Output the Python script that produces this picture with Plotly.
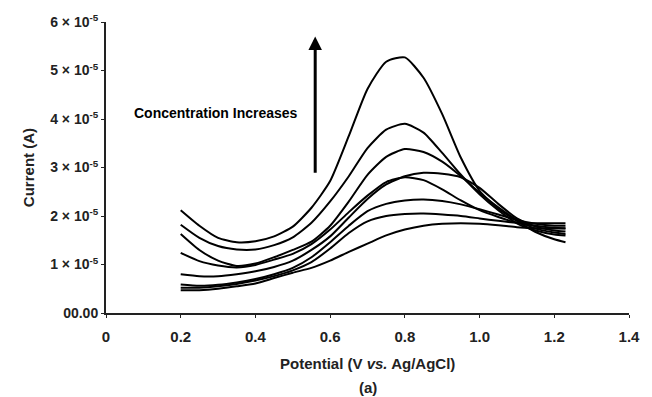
import plotly.graph_objects as go

# Potential grid (V vs Ag/AgCl)
potential = [0.20, 0.25, 0.30, 0.35, 0.40, 0.45, 0.50, 0.55, 0.60, 0.65, 0.70,
             0.75, 0.80, 0.85, 0.90, 0.95, 1.00, 1.05, 1.10, 1.15, 1.20, 1.23]

# Currents in units of 1e-5 A, one list per concentration
curve_1 = [2.12, 1.80, 1.55, 1.46, 1.48, 1.58, 1.78, 2.17, 2.72, 3.65, 4.62,
           5.18, 5.27, 4.85, 4.10, 3.20, 2.52, 2.15, 1.90, 1.67, 1.52, 1.46]
curve_2 = [1.82, 1.55, 1.38, 1.31, 1.31, 1.40, 1.56, 1.86, 2.30, 2.82, 3.40,
           3.78, 3.90, 3.72, 3.30, 2.85, 2.45, 2.12, 1.85, 1.70, 1.62, 1.60]
curve_3 = [1.63, 1.30, 1.08, 0.97, 1.02, 1.15, 1.30, 1.47, 1.80, 2.30, 2.85,
           3.22, 3.38, 3.32, 3.12, 2.82, 2.48, 2.18, 1.92, 1.74, 1.66, 1.63]
curve_4 = [1.24, 1.07, 0.98, 0.94, 0.99, 1.10, 1.22, 1.42, 1.72, 2.08, 2.42,
           2.70, 2.80, 2.74, 2.55, 2.32, 2.12, 1.98, 1.86, 1.80, 1.76, 1.75]
curve_5 = [0.80, 0.76, 0.76, 0.80, 0.86, 0.95, 1.08, 1.30, 1.58, 1.97, 2.35,
           2.65, 2.82, 2.89, 2.87, 2.80, 2.58, 2.25, 1.95, 1.78, 1.70, 1.68]
curve_6 = [0.59, 0.56, 0.58, 0.63, 0.70, 0.80, 0.93, 1.15, 1.46, 1.80, 2.10,
           2.25, 2.32, 2.34, 2.31, 2.24, 2.14, 2.03, 1.92, 1.84, 1.80, 1.80]
curve_7 = [0.52, 0.52, 0.55, 0.60, 0.67, 0.76, 0.88, 1.05, 1.33, 1.65, 1.89,
           2.00, 2.04, 2.05, 2.03, 2.00, 1.95, 1.90, 1.86, 1.85, 1.85, 1.85]
curve_8 = [0.47, 0.47, 0.50, 0.55, 0.61, 0.72, 0.83, 0.93, 1.08, 1.26, 1.43,
           1.60, 1.72, 1.80, 1.84, 1.85, 1.84, 1.81, 1.77, 1.75, 1.74, 1.74]

curves = [curve_1, curve_2, curve_3, curve_4, curve_5, curve_6, curve_7, curve_8]
scale = 1e-5

x_tick_vals = [0, 0.2, 0.4, 0.6, 0.8, 1.0, 1.2, 1.4]
x_tick_text = ["0", "0.2", "0.4", "0.6", "0.8", "1.0", "1.2", "1.4"]
y_tick_vals = [0, 1e-5, 2e-5, 3e-5, 4e-5, 5e-5, 6e-5]
y_tick_text = ["00.00"] + [f"{i} \u00d7 10<sup>-5</sup>" for i in range(1, 7)]

FONT = "Liberation Sans, Arial, sans-serif"

fig = go.Figure()
for c in curves:
    fig.add_trace(go.Scatter(
        x=potential, y=[v * scale for v in c], mode="lines",
        line=dict(color="black", width=2, shape="spline", smoothing=0.6),
        showlegend=False, hoverinfo="skip"))

fig.update_layout(
    width=652, height=397,
    margin=dict(l=106, r=13, t=20, b=84),
    paper_bgcolor="white", plot_bgcolor="white",
    font=dict(family=FONT, color="#222"),
    xaxis=dict(range=[0, 1.4], tickvals=x_tick_vals, ticktext=x_tick_text,
               showgrid=False, zeroline=False, showline=True, linecolor="#222",
               linewidth=2, ticks="outside", ticklen=3, tickcolor="#222",
               ticklabelstandoff=6,
               tickfont=dict(size=15, family=FONT, weight="bold")),
    yaxis=dict(range=[0, 6e-5], tickvals=y_tick_vals, ticktext=y_tick_text,
               showgrid=False, zeroline=False, showline=True, linecolor="#222",
               linewidth=2, ticks="outside", ticklen=3, tickcolor="#222",
               tickfont=dict(size=14, family=FONT, weight="bold")),
)

fig.add_annotation(x=0.56, y=5.7e-5, ax=0.56, ay=2.86e-5, xref="x", yref="y",
                   axref="x", ayref="y", showarrow=True, arrowhead=2,
                   arrowsize=0.9, arrowwidth=3, arrowcolor="black", text="")
fig.add_annotation(x=0.294, y=4.12e-5, xref="x", yref="y", showarrow=False,
                   text="<b>Concentration Increases</b>",
                   font=dict(size=14, family=FONT, color="black"))
fig.add_annotation(x=-0.168, y=0.5, xref="paper", yref="paper", showarrow=False,
                   textangle=-90, text="<b>Current (A)</b>",
                   font=dict(size=15, family=FONT, color="#222"))
fig.add_annotation(x=0.5, y=-0.174, xref="paper", yref="paper", showarrow=False,
                   yanchor="middle",
                   text="<b>Potential (V <i>vs.</i> Ag/AgCl)</b>",
                   font=dict(size=15, family=FONT, color="#222"))
fig.add_annotation(x=0.5, y=-0.256, xref="paper", yref="paper", showarrow=False,
                   yanchor="middle", text="<b>(a)</b>",
                   font=dict(size=15, family=FONT, color="#222"))

fig.write_html("out.html")
